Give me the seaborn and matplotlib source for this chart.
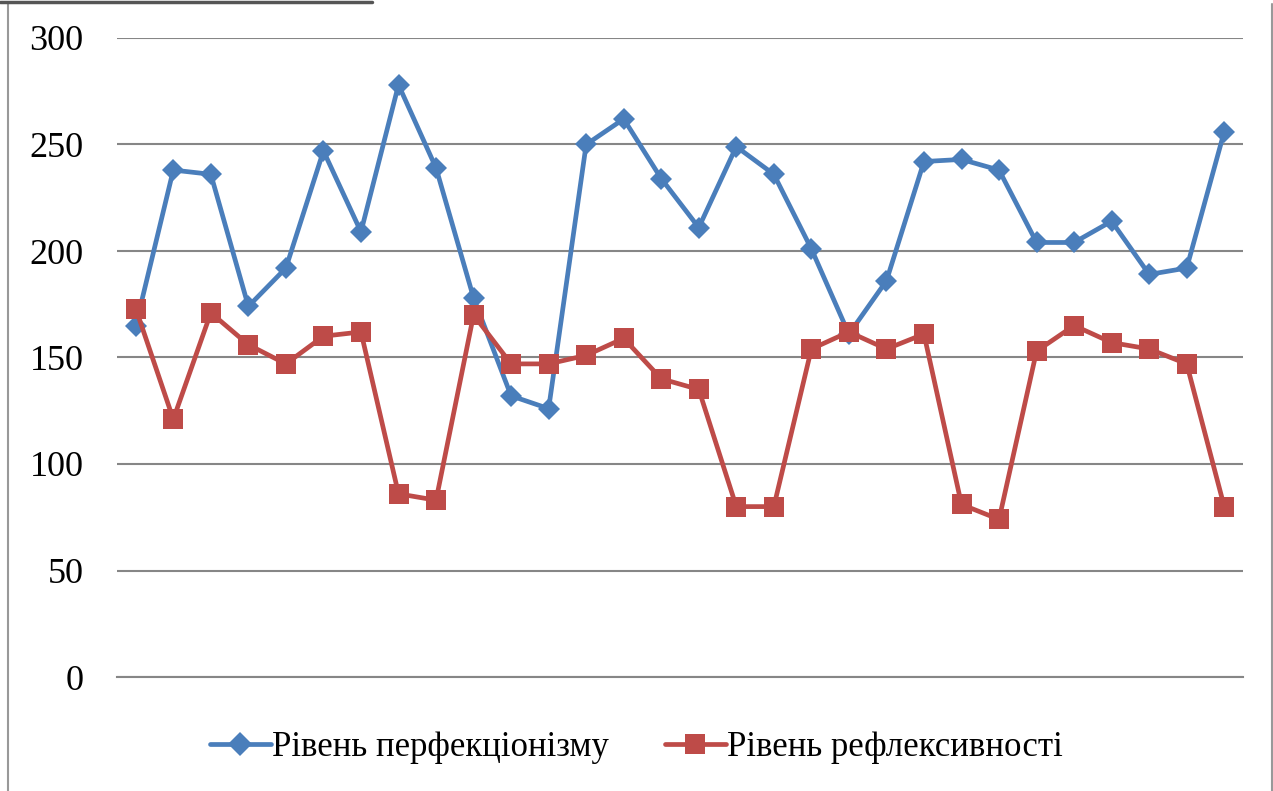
import matplotlib
matplotlib.use("Agg")
import matplotlib.pyplot as plt
import seaborn as sns
import pandas as pd
from matplotlib.lines import Line2D

perf = [165, 238, 236, 174, 192, 247, 209, 278, 239, 178, 132, 126, 250, 262, 234,
        211, 249, 236, 201, 161, 186, 242, 243, 238, 204, 204, 214, 189, 192, 256]
refl = [173, 121, 171, 156, 147, 160, 162, 86, 83, 170, 147, 147, 151, 159, 140,
        135, 80, 80, 154, 162, 154, 161, 81, 74, 153, 165, 157, 154, 147, 80]
series_names = ["Рівень перфекціонізму", "Рівень рефлексивності"]
yticks = [0, 50, 100, 150, 200, 250, 300]

idx = list(range(len(perf)))
df = pd.DataFrame({
    "x": idx + idx,
    "value": perf + refl,
    "series": [series_names[0]] * len(perf) + [series_names[1]] * len(refl),
})

sns.set_theme(style="white")
plt.rcParams["font.family"] = ["Liberation Serif", "DejaVu Serif"]
plt.rcParams["text.color"] = "black"

fig = plt.figure(figsize=(12.73, 7.91), dpi=100)
ax = fig.add_axes([117 / 1273, 1 - 677 / 791, (1243 - 117) / 1273, (677 - 38) / 791])

colors = {series_names[0]: "#4A7EBB", series_names[1]: "#BE4B48"}
markers = {series_names[0]: "D", series_names[1]: "s"}
sizes_m = {series_names[0]: 11.5, series_names[1]: 14}

for name in series_names:
    sub = df[df["series"] == name]
    sns.lineplot(data=sub, x="x", y="value", ax=ax, color=colors[name],
                 marker=markers[name], markersize=sizes_m[name], linewidth=3.4,
                 markeredgewidth=0, legend=False, zorder=3)

ax.set_xlim(-0.5, len(perf) - 0.5)
ax.set_ylim(0, 300)
ax.set_yticks(yticks)
ax.set_yticklabels([str(t) for t in yticks], fontsize=26, color="black")
ax.set_xticks([])
ax.set_xlabel("")
ax.set_ylabel("")
ax.tick_params(axis="y", length=0, pad=24)
ax.grid(axis="y", color="#868686", linewidth=1.5)
ax.set_axisbelow(True)
for s in ["top", "right", "left"]:
    ax.spines[s].set_visible(False)
ax.spines["bottom"].set_color("#868686")
ax.spines["bottom"].set_linewidth(1.5)

handles = [Line2D([0], [0], color=colors[n], marker=markers[n], markersize=sizes_m[n] + 1,
                  linewidth=3.4, markeredgewidth=0) for n in series_names]
fig.legend(handles, series_names, loc="center", bbox_to_anchor=(0.5, 1 - 748 / 791),
           ncol=2, frameon=False, fontsize=25, handlelength=1.75, columnspacing=1.6,
           handletextpad=0.05, labelcolor="black")

# outer frame fragments
fig.add_artist(Line2D([8 / 1273, 8 / 1273], [0, 1 - 4 / 791], color="#999999", linewidth=1.5))
fig.add_artist(Line2D([1272 / 1273, 1272 / 1273], [0, 1 - 4 / 791], color="#999999", linewidth=1.5))
fig.add_artist(Line2D([0, 372 / 1273], [1 - 2 / 791, 1 - 2 / 791], color="#555555", linewidth=2.5))

fig.savefig("out.png", dpi=100)
